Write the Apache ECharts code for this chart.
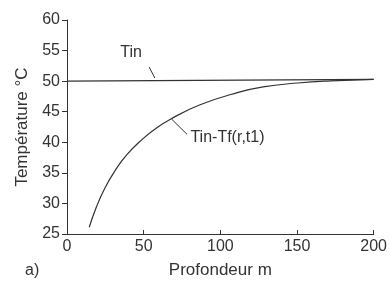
<!DOCTYPE html>
<html>
<head>
    <meta charset="utf-8">
    <title>Température / Profondeur</title>
    <script src="https://cdn.jsdelivr.net/npm/echarts@6/dist/echarts.min.js"></script>
</head>
<body style="margin:0;background:#fff;">
<div id="main" style="width:390px;height:284px;"></div>
<script type="text/javascript">
    // donnees
    var depth = [14.5, 19.3, 24.9, 31.2, 38.8, 49.6, 57.1, 66.9, 86.4, 112.3, 129, 150.5, 172, 200];
    var tinTf = [26.1, 29.5, 32.6, 35.3, 37.9, 40.6, 42.1, 43.7, 46.1, 48.2, 49.1, 49.7, 50.05, 50.3];
    var tinDepth = [0, 200];
    var tin = [50, 50.3];
    var xTicks = [0, 50, 100, 150, 200];
    var yTicks = [25, 30, 35, 40, 45, 50, 55, 60];

    // etiquettes et traits de rappel (coordonnees dans les unites du graphe)
    var tinLabelAt = [41.8, 54.7];
    var tinLeader = [[53.6, 52.3], [57.3, 50.5]];
    var tfLabelAt = [80.5, 40.7];
    var tfLeader = [[78.3, 41.3], [68.2, 43.8]];

    var font = "'Liberation Sans', Arial, sans-serif";
    var ink = '#333';

    var myChart = echarts.init(document.getElementById('main'));

    function pairs(xs, ys) {
        return xs.map(function (x, i) { return [x, ys[i]]; });
    }

    myChart.setOption({
        animation: false,
        backgroundColor: '#fff',
        grid: { left: 67, right: 15, top: 20, bottom: 48 },
        xAxis: {
            type: 'value',
            min: xTicks[0], max: xTicks[xTicks.length - 1], interval: 50,
            name: 'Profondeur m', nameLocation: 'middle', nameGap: 28,
            nameTextStyle: { color: ink, fontFamily: font, fontSize: 17 },
            axisLine: { show: true, lineStyle: { color: ink, width: 1 } },
            axisTick: { show: true, inside: true, length: 4, lineStyle: { color: ink } },
            axisLabel: { color: ink, fontFamily: font, fontSize: 16, margin: 5 },
            splitLine: { show: false }
        },
        yAxis: {
            type: 'value',
            min: yTicks[0], max: yTicks[yTicks.length - 1], interval: 5,
            name: 'Température °C', nameLocation: 'middle', nameGap: 35,
            nameTextStyle: { color: ink, fontFamily: font, fontSize: 17 },
            axisLine: { show: true, lineStyle: { color: ink, width: 1 } },
            axisTick: { show: true, inside: false, length: 5, lineStyle: { color: ink } },
            axisLabel: { color: ink, fontFamily: font, fontSize: 16, margin: 7 },
            splitLine: { show: false }
        },
        series: [{
            name: 'Tin', type: 'line',
            data: pairs(tinDepth, tin),
            showSymbol: false,
            lineStyle: { color: ink, width: 1.2 },
            markLine: {
                silent: true, symbol: 'none',
                label: { show: false },
                lineStyle: { color: ink, width: 1, type: 'solid' },
                data: [[{ coord: tinLeader[0] }, { coord: tinLeader[1] }]]
            },
            markPoint: {
                symbol: 'circle', symbolSize: 0,
                data: [{
                    coord: tinLabelAt,
                    label: { show: true, position: 'inside', formatter: 'Tin',
                        color: ink, fontFamily: font, fontSize: 16 }
                }]
            }
        }, {
            name: 'Tin-Tf(r,t1)', type: 'line',
            data: pairs(depth, tinTf),
            smooth: 0.5,
            showSymbol: false,
            lineStyle: { color: ink, width: 1.2 },
            markLine: {
                silent: true, symbol: 'none',
                label: { show: false },
                lineStyle: { color: ink, width: 1, type: 'solid' },
                data: [[{ coord: tfLeader[0] }, { coord: tfLeader[1] }]]
            },
            markPoint: {
                symbol: 'circle', symbolSize: 0,
                data: [{
                    coord: tfLabelAt,
                    label: { show: true, position: 'right', distance: 0, formatter: 'Tin-Tf(r,t1)',
                        color: ink, fontFamily: font, fontSize: 16 }
                }]
            }
        }],
        graphic: [{
            type: 'text', left: 25, top: 263,
            style: { text: 'a)', fill: ink, font: '16px ' + font }
        }]
    });
</script>
</body>
</html>
